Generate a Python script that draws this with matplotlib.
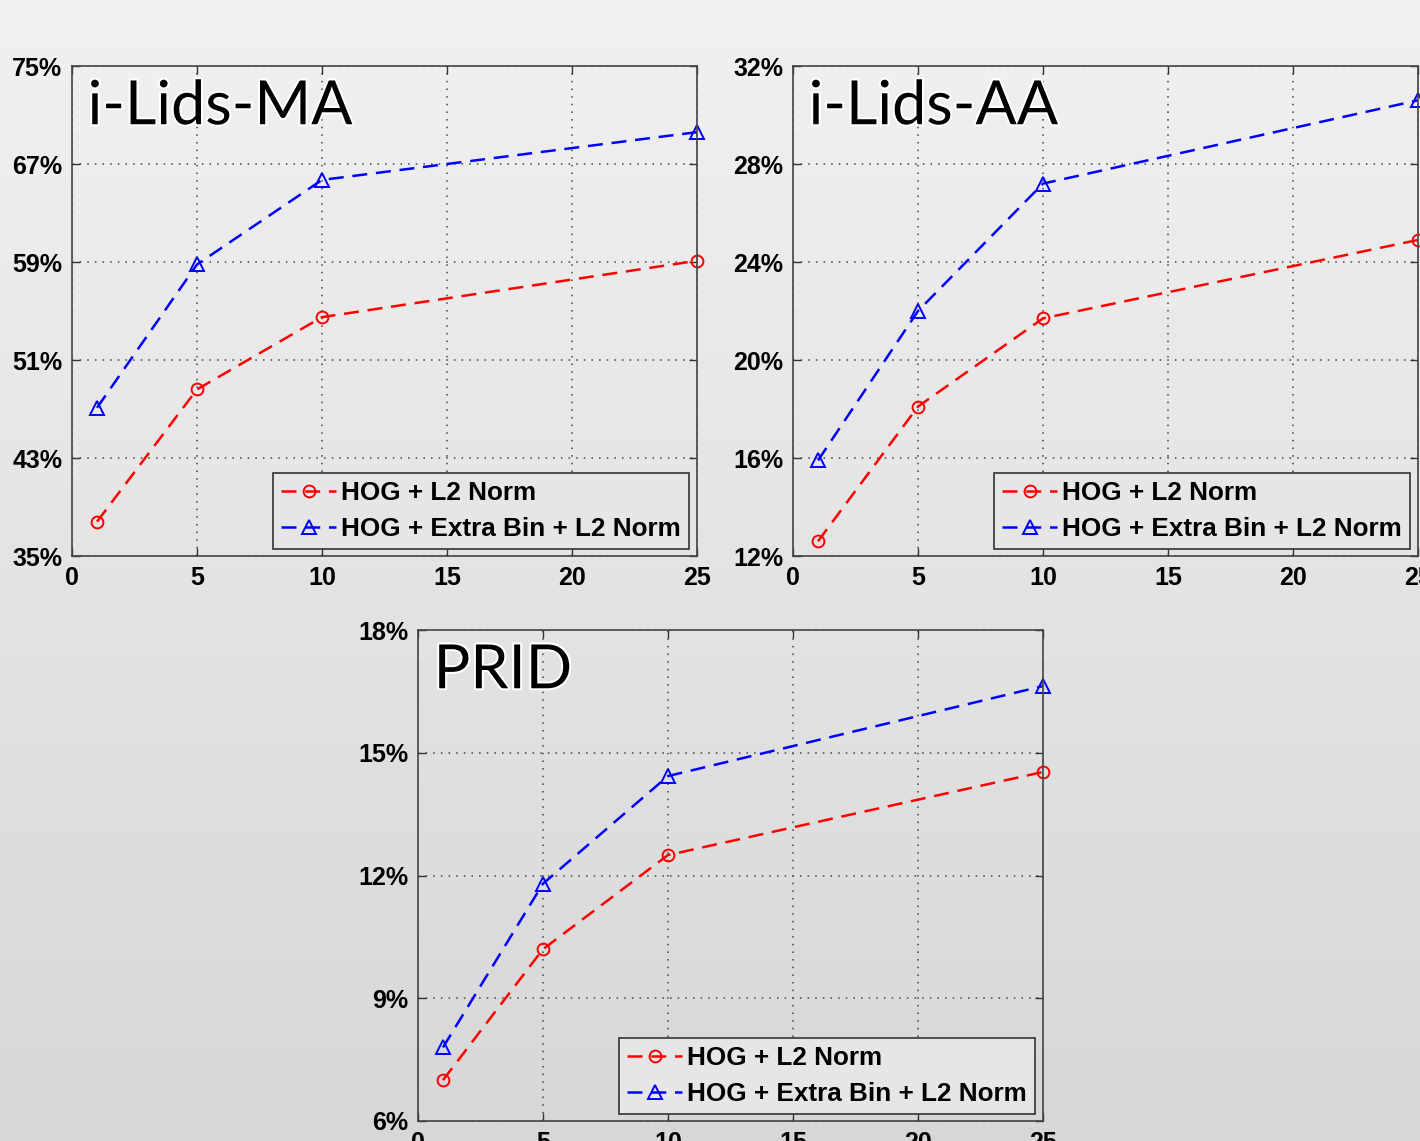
import numpy as np
import matplotlib
matplotlib.use("Agg")
import matplotlib.pyplot as plt
import matplotlib.patheffects as pe
from matplotlib.ticker import FuncFormatter

# ---- data ----
ranks = [1, 5, 10, 25]
x_ticks = [0, 5, 10, 15, 20, 25]

ma_l2 = [37.8, 48.6, 54.5, 59.1]
ma_extra = [47.1, 58.8, 65.7, 69.6]
ma_yticks = [35, 43, 51, 59, 67, 75]

aa_l2 = [12.6, 18.1, 21.7, 24.9]
aa_extra = [15.9, 22.0, 27.2, 30.6]
aa_yticks = [12, 16, 20, 24, 28, 32]

prid_l2 = [7.0, 10.2, 12.5, 14.53]
prid_extra = [7.8, 11.8, 14.43, 16.63]
prid_yticks = [6, 9, 12, 15, 18]

titles = ["i-Lids-MA", "i-Lids-AA", "PRID"]
label_l2 = "HOG + L2 Norm"
label_extra = "HOG + Extra Bin + L2 Norm"

W, H = 1420, 1141
fig = plt.figure(figsize=(W / 100, H / 100), dpi=100)

# gradient background
bg = fig.add_axes([0, 0, 1, 1], zorder=-10)
grad = np.linspace(241, 215, 256).reshape(-1, 1) / 255.0
bg.imshow(np.dstack([grad, grad, grad]), aspect="auto", extent=[0, 1, 0, 1])
bg.axis("off")

def px_axes(left, right, top, bottom):
    return [left / W, 1 - bottom / H, (right - left) / W, (bottom - top) / H]

panels = [
    (px_axes(72, 697, 66, 556), ma_l2, ma_extra, ma_yticks, titles[0]),
    (px_axes(793, 1418, 66, 556), aa_l2, aa_extra, aa_yticks, titles[1]),
    (px_axes(418, 1043, 630, 1121), prid_l2, prid_extra, prid_yticks, titles[2]),
]

for rect, l2, extra, yticks, title in panels:
    ax = fig.add_axes(rect)
    ax.set_facecolor("none")
    ax.plot(ranks, l2, linestyle=(0, (6, 3.5)), color="#ff0000", lw=1.8,
            marker="o", markersize=8.5, markerfacecolor="none",
            markeredgewidth=1.4, label=label_l2, clip_on=False)
    ax.plot(ranks, extra, linestyle=(0, (6, 3.5)), color="#0000ff", lw=1.8,
            marker="^", markersize=9.5, markerfacecolor="none",
            markeredgewidth=1.4, label=label_extra, clip_on=False)
    ax.set_xlim(0, 25)
    ax.set_ylim(yticks[0], yticks[-1])
    ax.set_xticks(x_ticks)
    ax.set_yticks(yticks)
    ax.yaxis.set_major_formatter(FuncFormatter(lambda v, p: f"{int(round(v))}%"))
    for lab in ax.get_xticklabels() + ax.get_yticklabels():
        lab.set_fontfamily("Liberation Sans")
        lab.set_fontweight("bold")
        lab.set_fontsize(18)
    ax.tick_params(direction="in", length=6, width=1, top=True, right=True,
                   color="#333333")
    ax.tick_params(axis="x", pad=7)
    ax.tick_params(axis="y", pad=7)
    ax.grid(True, linestyle=(0, (1, 4)), color="#444444", lw=1.1)
    for s in ax.spines.values():
        s.set_color("#444444")
        s.set_linewidth(1.2)
    ax.text(0.025, 0.975, title, transform=ax.transAxes, ha="left", va="top",
            fontsize=44, family="Lato", color="black",
            path_effects=[pe.withStroke(linewidth=3, foreground="white")])
    leg = ax.legend(loc="lower right", bbox_to_anchor=(0.987, 0.015),
                    prop=dict(family="Liberation Sans", weight="bold", size=18.8),
                    frameon=True, fancybox=False, edgecolor="#333333",
                    facecolor="#e6e6e6", framealpha=1.0, handlelength=2.1,
                    handletextpad=0.2, borderpad=0.3, labelspacing=0.45,
                    borderaxespad=0)
    leg.get_frame().set_linewidth(1.2)

fig.savefig("out.png", dpi=100)
